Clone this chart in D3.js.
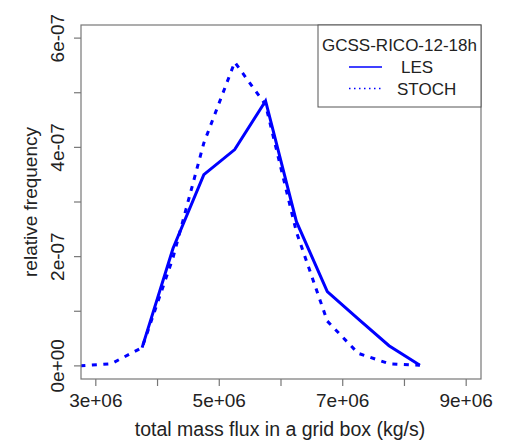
<!DOCTYPE html>
<html>
<head>
<meta charset="utf-8">
<script src="https://cdn.jsdelivr.net/npm/d3@7"></script>
<style>
  body { margin: 0; background: #fff; }
  text { font-family: "Liberation Sans", Arial, sans-serif; fill: #222; }
</style>
</head>
<body>
<svg width="506" height="441"></svg>
<script>
// bin centres (kg/s)
var flux = [2.75e6, 3.25e6, 3.75e6, 4.25e6, 4.75e6, 5.25e6, 5.75e6, 6.25e6, 6.75e6, 7.25e6, 7.75e6, 8.25e6];
// relative frequency, NaN = no value
var les   = [NaN, NaN, 0.335e-7, 2.15e-7, 3.5e-7, 3.96e-7, 4.85e-7, 2.64e-7, 1.36e-7, 0.86e-7, 0.37e-7, 0.01e-7];
var stoch = [0.0, 0.04e-7, 0.335e-7, 1.98e-7, 4.08e-7, 5.56e-7, 4.78e-7, 2.45e-7, 0.82e-7, 0.23e-7, 0.04e-7, 0.01e-7];
var xTicks = [3e6, 4e6, 5e6, 6e6, 7e6, 8e6, 9e6];
var xLabels = [3e6, 5e6, 7e6, 9e6];
var yTicks = [0, 1e-7, 2e-7, 3e-7, 4e-7, 5e-7, 6e-7];
var yLabels = [0, 2e-7, 4e-7, 6e-7];
var legendTitle = "GCSS-RICO-12-18h";
var seriesNames = ["LES", "STOCH"];

var L = 81, R = 481, T = 25, B = 379;
var svg = d3.select("svg");

// R style: 4% extension of xlim / ylim
var x = d3.scaleLinear().domain([3e6 - 0.24e6, 9e6 + 0.24e6]).range([L, R]);
var y = d3.scaleLinear().domain([-0.24e-7, 6.24e-7]).range([B, T]);

function sci(v) {
    if (v === 0) return "0e+00";
    var e = Math.floor(Math.log10(Math.abs(v)) + 1e-9);
    var m = Math.round(v / Math.pow(10, e));
    var s = e < 0 ? "-" : "+";
    var a = Math.abs(e);
    return m + "e" + s + (a < 10 ? "0" + a : a);
}

svg.append("clipPath").attr("id", "clip")
    .append("rect").attr("x", L).attr("y", T).attr("width", R - L).attr("height", B - T);

var line = d3.line()
    .defined(function (d) { return !isNaN(d[1]); })
    .x(function (d) { return x(d[0]); })
    .y(function (d) { return y(d[1]); });

var g = svg.append("g").attr("clip-path", "url(#clip)");
g.append("path")
    .attr("d", line(flux.map(function (f, i) { return [f, stoch[i]]; })))
    .attr("fill", "none").attr("stroke", "#0000ff").attr("stroke-width", 3)
    .attr("stroke-dasharray", "5,6.5");
g.append("path")
    .attr("d", line(flux.map(function (f, i) { return [f, les[i]]; })))
    .attr("fill", "none").attr("stroke", "#0000ff").attr("stroke-width", 3)
    .attr("stroke-linejoin", "miter");

// box
svg.append("rect").attr("x", L).attr("y", T).attr("width", R - L).attr("height", B - T)
    .attr("fill", "none").attr("stroke", "#777").attr("stroke-width", 1.2);

// x axis
var xa = svg.append("g");
xa.selectAll("line").data(xTicks).enter().append("line")
    .attr("x1", function (d) { return x(d); }).attr("x2", function (d) { return x(d); })
    .attr("y1", B).attr("y2", B + 7)
    .attr("stroke", "#777").attr("stroke-width", 1.2);
xa.selectAll("text").data(xLabels).enter().append("text")
    .attr("x", function (d) { return x(d); }).attr("y", 407)
    .attr("text-anchor", "middle").attr("font-size", 19)
    .text(sci);
svg.append("text").attr("x", (L + R) / 2 - 1).attr("y", 436)
    .attr("text-anchor", "middle").attr("font-size", 19.5)
    .text("total mass flux in a grid box (kg/s)");

// y axis
var ya = svg.append("g");
ya.selectAll("line").data(yTicks).enter().append("line")
    .attr("y1", function (d) { return y(d); }).attr("y2", function (d) { return y(d); })
    .attr("x1", L - 7).attr("x2", L)
    .attr("stroke", "#777").attr("stroke-width", 1.2);
ya.selectAll("text").data(yLabels).enter().append("text")
    .attr("transform", function (d) { return "translate(64," + y(d) + ") rotate(-90)"; })
    .attr("text-anchor", "middle").attr("font-size", 19)
    .text(sci);
svg.append("text")
    .attr("transform", "translate(37," + (T + B) / 2 + ") rotate(-90)")
    .attr("text-anchor", "middle").attr("font-size", 19)
    .text("relative frequency");

// legend
var lg = svg.append("g");
lg.append("rect").attr("x", 318).attr("y", T).attr("width", R - 318).attr("height", 107 - T)
    .attr("fill", "#fff").attr("stroke", "#555").attr("stroke-width", 1);
lg.append("text").attr("x", 399.5).attr("y", 51).attr("text-anchor", "middle")
    .attr("font-size", 17).text(legendTitle);
var legX = [401, 397];
seriesNames.forEach(function (name, i) {
    var yy = 67 + i * 21.5;
    lg.append("line").attr("x1", 349).attr("x2", 382).attr("y1", yy).attr("y2", yy)
        .attr("stroke", "#0000ff").attr("stroke-width", 1.5)
        .attr("stroke-dasharray", i === 1 ? "1.5,3.5" : null);
    lg.append("text").attr("x", legX[i]).attr("y", yy + 6)
        .attr("font-size", 17).text(name);
});
</script>
</body>
</html>
